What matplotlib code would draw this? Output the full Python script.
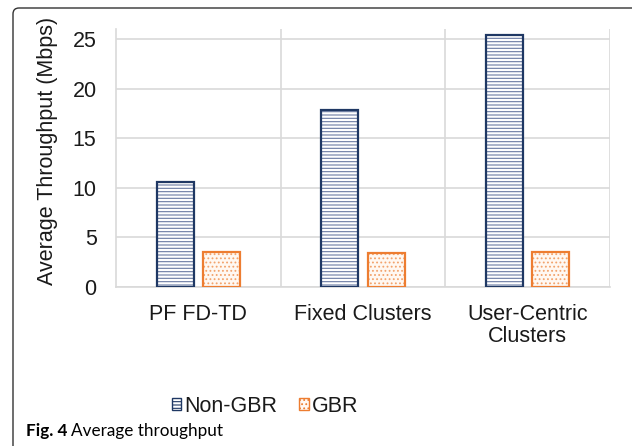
import numpy as np
import matplotlib.pyplot as plt
from matplotlib.patches import Patch, PathPatch
from matplotlib.path import Path
from matplotlib.transforms import IdentityTransform

# values (Mbps)
categories = ["PF FD-TD", "Fixed Clusters", "User-Centric\nClusters"]
non_gbr = [10.55, 17.85, 25.4]
gbr = [3.5, 3.4, 3.5]
yticks = [0, 5, 10, 15, 20, 25]

W, H = 634, 446
plt.rcParams["font.family"] = ["Liberation Sans", "DejaVu Sans"]
plt.rcParams["hatch.linewidth"] = 0.8

fig = plt.figure(figsize=(W / 100, H / 100), dpi=100)
ax = fig.add_axes([116 / W, (H - 287) / H, (610 - 116) / W, (287 - 29) / H])

x = np.arange(len(categories))
bw = 0.225
off = 0.141
navy = "#1f3864"
orange = "#ed7d31"
txt = "#1a1a1a"

# hatch fill first, then the outline on top
ax.bar(x - off, non_gbr, bw, color="white", edgecolor="#6b7ba3", hatch="-----", linewidth=0, zorder=2)
ax.bar(x - off, non_gbr, bw, fill=False, edgecolor=navy, linewidth=1.6, zorder=3)
ax.bar(x + off, gbr, bw, color="#fff8f2", edgecolor="#f2a36c", hatch="....", linewidth=0, zorder=2)
ax.bar(x + off, gbr, bw, fill=False, edgecolor=orange, linewidth=1.6, zorder=3)

ax.set_xlim(-0.5, 2.5)
ax.set_ylim(0, 26)
ax.set_yticks(yticks)
ax.set_xticks(x)
ax.set_xticklabels(categories, linespacing=1.1)
ax.set_xticks([0.5, 1.5, 2.5], minor=True)
ax.tick_params(axis="both", which="both", length=0, labelsize=15.5, colors=txt)
ax.tick_params(axis="y", pad=14)
ax.tick_params(axis="x", pad=12)
ax.grid(axis="y", which="major", color="#d9d9d9", linewidth=1.2, zorder=0)
ax.grid(axis="x", which="minor", color="#d9d9d9", linewidth=1.2, zorder=0)
ax.grid(axis="x", which="major", visible=False)
ax.set_axisbelow(True)
for s in ["top", "right"]:
    ax.spines[s].set_visible(False)
for s in ["left", "bottom"]:
    ax.spines[s].set_color("#d9d9d9")
    ax.spines[s].set_linewidth(1.2)

ax.set_ylabel("Average Throughput (Mbps)", fontsize=15.5, color=txt)
ax.yaxis.set_label_coords(-0.118, 0.527)

handles = [
    Patch(facecolor="white", edgecolor=navy, hatch="-----", linewidth=1),
    Patch(facecolor="#fff8f2", edgecolor=orange, hatch="....", linewidth=1),
]
fig.legend(handles, ["Non-GBR", "GBR"], loc="center", bbox_to_anchor=(265 / W, (H - 406) / H),
           ncol=2, frameon=False, fontsize=15.5, handlelength=0.45, handleheight=0.45,
           handletextpad=0.15, columnspacing=1.0, labelcolor=txt)

# caption under the chart
cap_font = ["Lato", "DejaVu Sans"]
t1 = fig.text(26 / W, (H - 431) / H, "Fig. 4", fontsize=12.3, fontweight="bold",
              family=cap_font, va="center")
fig.canvas.draw()
bb = t1.get_window_extent(fig.canvas.get_renderer())
fig.text((bb.x1 + 4) / W, (H - 431) / H, "Average throughput", fontsize=12.3,
         family=cap_font, va="center")

# rounded frame: left and top edges
r = 6
verts = [(13, 0), (13, H - 8 - r), (13, H - 8), (13 + r, H - 8), (632, H - 8)]
codes = [Path.MOVETO, Path.LINETO, Path.CURVE3, Path.CURVE3, Path.LINETO]
fig.patches.append(PathPatch(Path(verts, codes), fill=False, edgecolor="#333333",
                             linewidth=1.0, transform=IdentityTransform()))

fig.savefig("out.png", dpi=100)
